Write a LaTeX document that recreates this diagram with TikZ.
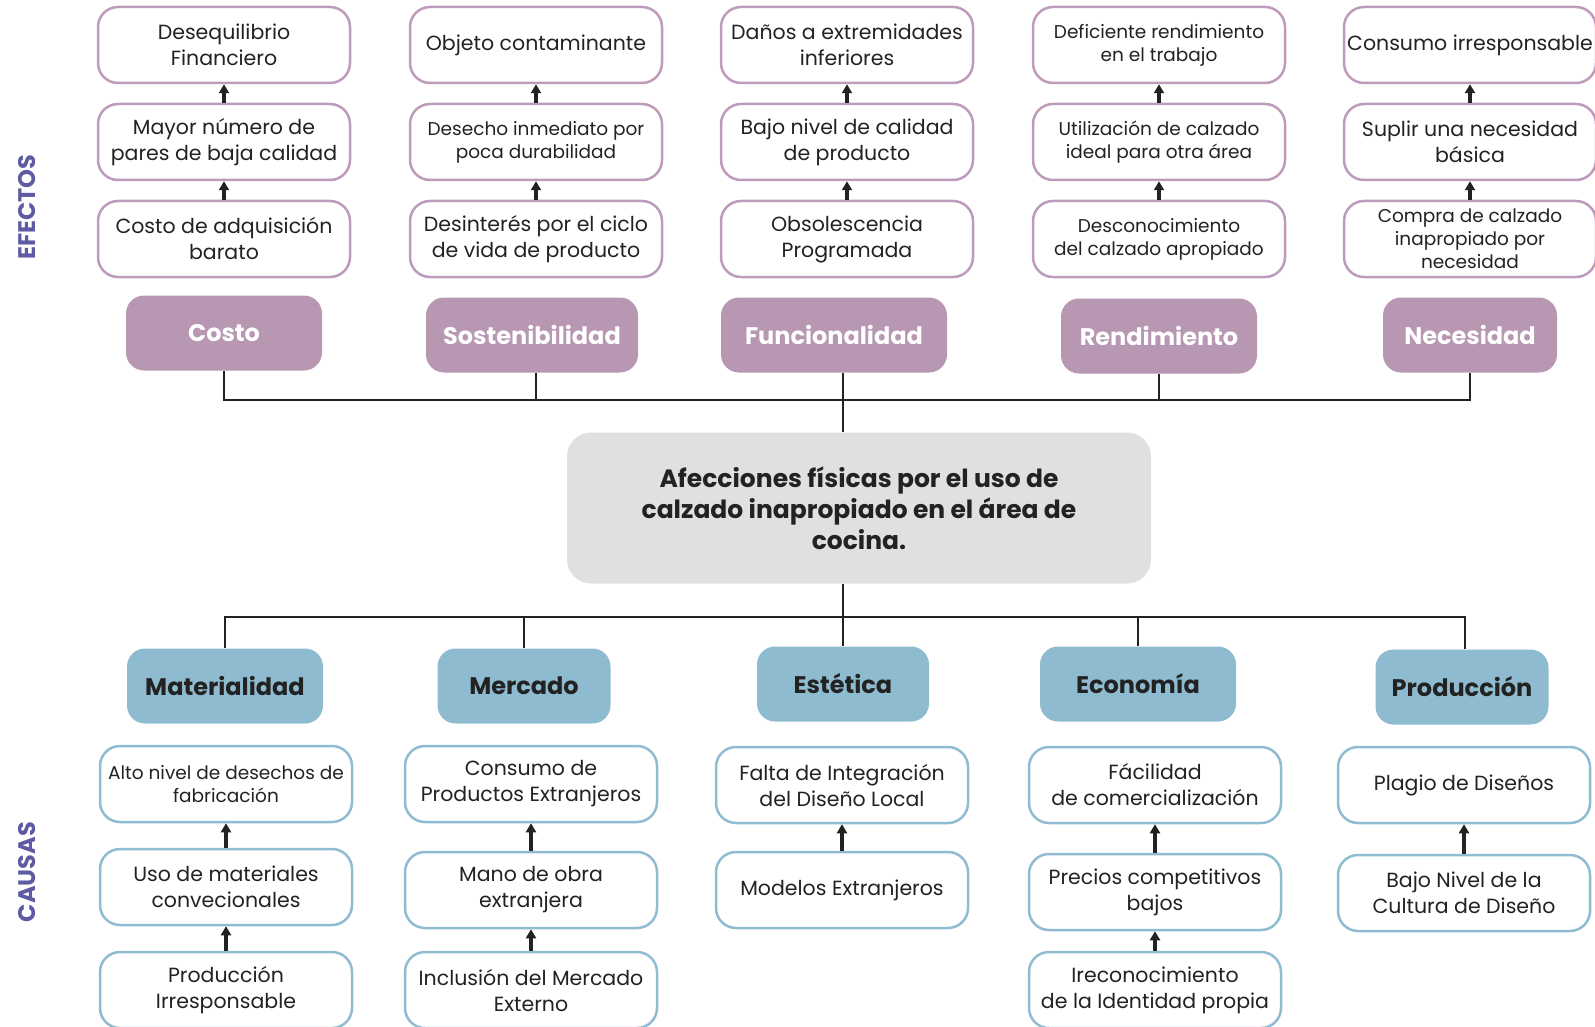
\documentclass[tikz,border=0pt]{standalone}
\usepackage{fontspec}
\setmainfont{Poppins}
\usepackage{tikz}
\usetikzlibrary{arrows.meta}
\definecolor{effline}{HTML}{BE9BBB}
\definecolor{efffill}{HTML}{B897B3}
\definecolor{cauline}{HTML}{8FBCD1}
\definecolor{caufill}{HTML}{8EBBD0}
\definecolor{probfill}{HTML}{E0E0E0}
\definecolor{sidetxt}{HTML}{5E5BA3}
\definecolor{txt}{HTML}{222222}
\tikzset{
  box/.style={line width=2.5pt, rounded corners=20pt, fill=white, minimum width=252pt,
    minimum height=76pt, align=center, text=txt, inner sep=2pt,
    font=\fontsize{20.5}{26}\selectfont},
  effbox/.style={box, draw=effline},
  caubox/.style={box, draw=cauline},
  small/.style={font=\fontsize{18.5}{23}\selectfont},
  head/.style={rounded corners=18pt, minimum width=196pt, minimum height=75pt,
    font=\bfseries\fontsize{24}{28}\selectfont},
  effhead/.style={head, fill=efffill, text=white},
  cauhead/.style={head, fill=caufill, text=txt},
  problem/.style={rounded corners=24pt, fill=probfill, minimum width=584pt, minimum height=151pt,
    align=center, text=txt, font=\bfseries\fontsize{25}{31}\selectfont},
  side/.style={rotate=90, text=sidetxt, font=\bfseries\fontsize{24}{28}\selectfont},
  link/.style={line width=2.5pt, draw=txt},
  arr/.style={line width=3.2pt, draw=txt, -{Triangle[length=9pt,width=10pt]}}
}
\begin{document}
\begin{tikzpicture}[x=1pt,y=-1pt]
  \useasboundingbox (0,0) rectangle (1595,1027);
  % side labels
  \node[side] (efectos) at (27,207) {EFECTOS};
  \node[side] (causas) at (27,872) {CAUSAS};
  % efectos
  \node[effbox] (e11) at (224,45) {Desequilibrio\\Financiero};
  \node[effbox] (e12) at (224,142) {Mayor número de\\pares de baja calidad};
  \node[effbox] (e13) at (224,239) {Costo de adquisición\\barato};
  \node[effbox] (e21) at (536,45) {Objeto contaminante};
  \node[effbox,small] (e22) at (536,142) {Desecho inmediato por\\poca durabilidad};
  \node[effbox] (e23) at (536,239) {Desinterés por el ciclo\\de vida de producto};
  \node[effbox] (e31) at (847,45) {Daños a extremidades\\inferiores};
  \node[effbox] (e32) at (847,142) {Bajo nivel de calidad\\de producto};
  \node[effbox] (e33) at (847,239) {Obsolescencia\\Programada};
  \node[effbox,small] (e41) at (1159,45) {Deficiente rendimiento\\en el trabajo};
  \node[effbox,small] (e42) at (1159,142) {Utilización de calzado\\ideal para otra área};
  \node[effbox,small] (e43) at (1159,239) {Desconocimiento\\del calzado apropiado};
  \node[effbox] (e51) at (1470,45) {Consumo irresponsable};
  \node[effbox] (e52) at (1470,142) {Suplir una necesidad\\básica};
  \node[effbox,small] (e53) at (1470,239) {Compra de calzado\\inapropiado por\\necesidad};
  \foreach \c in {1,...,5}{
    \draw[arr] (e\c3.north) -- (e\c2.south);
    \draw[arr] (e\c2.north) -- (e\c1.south);
  }
  % ejes de efectos
  \node[effhead] (hcos) at (224,333) {Costo};
  \node[effhead, minimum width=212pt] (hsos) at (532,335) {Sostenibilidad};
  \node[effhead, minimum width=226pt] (hfun) at (834,335) {Funcionalidad};
  \node[effhead] (hren) at (1159,336) {Rendimiento};
  \node[effhead, minimum width=174pt] (hnec) at (1470,335) {Necesidad};
  % problema central
  \node[problem] (prob) at (859,508) {Afecciones físicas por el uso de\\calzado inapropiado en el área de\\cocina.};
  \coordinate (jtop) at (843,400);
  \coordinate (jbot) at (843,617);
  \draw[link] (hcos.south) |- (jtop) -| (hnec.south);
  \draw[link] (hsos.south -| 536,0) -- (536,400);
  \draw[link] (hren.south) -- (hren.south |- jtop);
  \draw[link] (jtop |- hfun.south) -- (jtop |- prob.north);
  % causas
  \node[cauhead] (hmat) at (225,686) {Materialidad};
  \node[cauhead, minimum width=173pt] (hmer) at (524,686) {Mercado};
  \node[cauhead, minimum width=172pt] (hest) at (843,684) {Estética};
  \node[cauhead] (heco) at (1138,684) {Economía};
  \node[cauhead, minimum width=173pt] (hpro) at (1462,687) {Producción};
  \draw[link] (jtop |- prob.south) -- (jbot);
  \draw[link] (hmat.north) |- (jbot) -| (hpro.north -| 1465,0);
  \draw[link] (hmer.north) -- (hmer.north |- jbot);
  \draw[link] (heco.north) -- (heco.north |- jbot);
  \draw[link] (hest.north) -- (jbot);
  \node[caubox,small] (c11) at (226,784) {Alto nivel de desechos de\\fabricación};
  \node[caubox] (c12) at (226,887) {Uso de materiales\\convecionales};
  \node[caubox] (c13) at (226,990) {Producción\\Irresponsable};
  \node[caubox] (c21) at (531,784) {Consumo de\\Productos Extranjeros};
  \node[caubox] (c22) at (531,890) {Mano de obra\\extranjera};
  \node[caubox] (c23) at (531,990) {Inclusión del Mercado\\Externo};
  \node[caubox] (c31) at (842,785) {Falta de Integración\\del Diseño Local};
  \node[caubox] (c32) at (842,890) {Modelos Extranjeros};
  \node[caubox] (c41) at (1155,785) {Fácilidad\\de comercialización};
  \node[caubox] (c42) at (1155,892) {Precios competitivos\\bajos};
  \node[caubox] (c43) at (1155,990) {Ireconocimiento\\de la Identidad propia};
  \node[caubox] (c51) at (1464,785) {Plagio de Diseños};
  \node[caubox] (c52) at (1464,893) {Bajo Nivel de la\\Cultura de Diseño};
  \foreach \c in {1,...,5}{
    \draw[arr] (c\c2.north) -- (c\c1.south);
  }
  \foreach \c in {1,2,4}{
    \draw[arr] (c\c3.north) -- (c\c2.south);
  }
\end{tikzpicture}
\end{document}
